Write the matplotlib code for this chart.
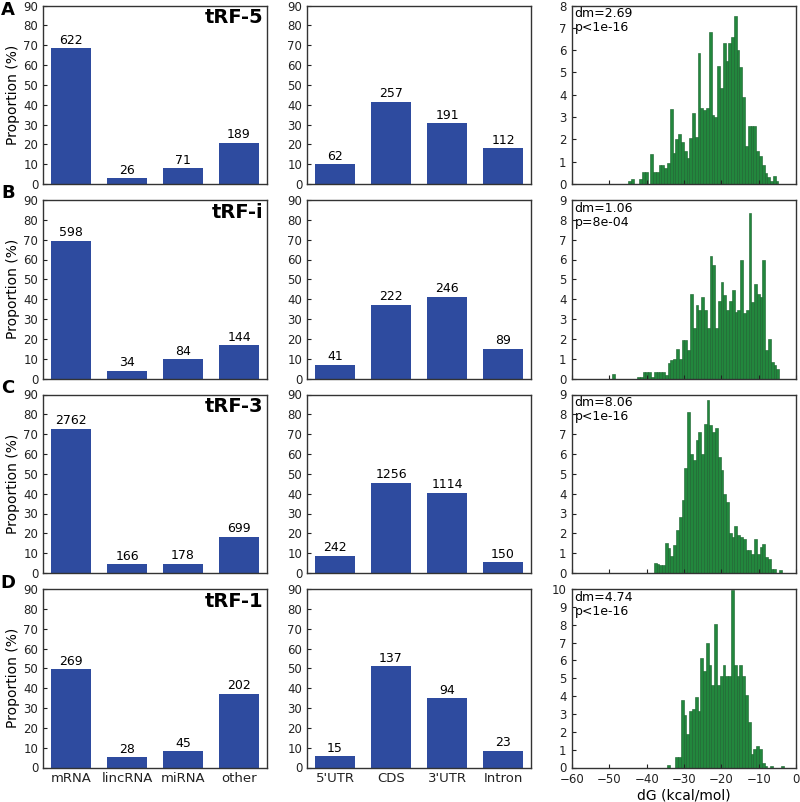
import numpy as np
import matplotlib
matplotlib.use('Agg')
import matplotlib.pyplot as plt

# ------------------------------------------------------------------
# data
# ------------------------------------------------------------------
groups = ["tRF-5", "tRF-i", "tRF-3", "tRF-1"]
panel_letters = ["A", "B", "C", "D"]

rna_types = ["mRNA", "lincRNA", "miRNA", "other"]
rna_counts = [
    [622, 26, 71, 189],
    [598, 34, 84, 144],
    [2762, 166, 178, 699],
    [269, 28, 45, 202],
]

regions = ["5'UTR", "CDS", "3'UTR", "Intron"]
region_counts = [
    [62, 257, 191, 112],
    [41, 222, 246, 89],
    [242, 1256, 1114, 150],
    [15, 137, 94, 23],
]

# dG histograms (percent per bin), bins span [start, end]
hist_range = [(-45.0, -4.7), (-49.3, -4.5), (-38.1, -3.8), (-34.6, -3.2)]
hist_trf5 = [0.12, 0.24, 0, 0, 0.24, 0.55, 0.55, 0, 1.34, 0.55,
             0.55, 0.86, 0.86, 0.7, 0.93, 3.36, 1.38, 2.0, 2.25, 1.9,
             1.5, 1.16, 2.05, 3.17, 2.1, 5.85, 3.4, 3.3, 3.4, 6.8,
             3.1, 3.0, 5.3, 4.3, 6.3, 5.5, 6.3, 6.6, 7.55, 6.0,
             5.25, 3.9, 1.7, 2.6, 2.6, 2.6, 1.5, 1.25, 0.85, 0.5,
             0.3, 0.12, 0.35, 0.12]
hist_trfi = [0.22, 0, 0, 0, 0, 0, 0, 0, 0,
             0.1, 0.1, 0.34, 0.34, 0.34, 0.1, 0.34, 0.34, 0.34, 0.34,
             0.2, 0.76, 0.92, 0.98, 1.48, 1.0, 1.94, 1.94, 1.43, 4.26,
             2.57, 3.7, 3.45, 4.12, 3.45, 2.55, 6.16, 5.7, 2.55, 3.9,
             4.85, 4.2, 3.45, 3.9, 4.46, 3.37, 3.45, 6.0, 3.28, 3.45,
             8.35, 3.87, 4.76, 4.26, 4.12, 5.97, 1.43, 2.0, 0.85, 0.67,
             0.5]
hist_trf3 = [0.5, 0.47, 0.39, 0.39, 1.53, 1.26, 0.85, 1.4, 2.19, 2.83,
             3.7, 5.27, 8.13, 6.0, 5.7, 6.7, 7.1, 6.0, 7.5, 8.7,
             7.45, 7.1, 7.3, 5.86, 5.2, 4.0, 3.6, 2.0, 1.8, 2.36,
             1.9, 1.8, 1.73, 1.15, 1.15, 0.98, 1.73, 0.98, 1.3, 1.48,
             0.8, 0.72, 0.22, 0.22, 0, 0.13]
hist_trf1 = [0.13, 0, 0, 0.57, 0.57, 3.77, 2.92, 1.9, 3.15, 3.3,
             3.96, 3.15, 6.13, 5.38, 6.98, 5.75, 4.62, 8.06, 4.62, 5.1,
             5.75, 5.1, 5.1, 9.95, 5.75, 5.1, 5.75, 5.1, 4.05, 2.55,
             0.75, 1.04, 1.23, 1.04, 0.28, 0.1, 0, 0.1, 0, 0,
             0, 0.1]
hist_heights = [hist_trf5, hist_trfi, hist_trf3, hist_trf1]
hist_ymax = [8, 9, 9, 10]
dm_vals = ["2.69", "1.06", "8.06", "4.74"]
p_vals = ["p<1e-16", "p=8e-04", "p<1e-16", "p<1e-16"]

BLUE = "#2e4b9f"
GREEN = "#22873d"
GREEN_EDGE = "#17602a"

# ------------------------------------------------------------------
# layout (pixel based)
# ------------------------------------------------------------------
W, H = 800, 802
fig = plt.figure(figsize=(W / 100, H / 100), dpi=100)

col_x = [43, 307, 572]
col_w = 224
row_top = [5.5, 200, 394.5, 589]
row_h = 178.5


def add_ax(col, row):
    x0 = col_x[col] / W
    y0 = 1 - (row_top[row] + row_h) / H
    return fig.add_axes([x0, y0, col_w / W, row_h / H])


def style(ax):
    for sp in ax.spines.values():
        sp.set_color("#333333")
        sp.set_linewidth(1.0)
    ax.tick_params(direction="in", length=3, labelsize=8.5, colors="#222222")


for r in range(4):
    # --- RNA type ---
    ax = add_ax(0, r)
    counts = np.array(rna_counts[r])
    prop = counts / counts.sum() * 100
    xs = np.arange(len(rna_types))
    ax.bar(xs, prop, width=0.7, color=BLUE)
    for x, p, c in zip(xs, prop, counts):
        ax.text(x, p + 0.8, str(c), ha="center", va="bottom", fontsize=9)
    ax.set_xlim(-0.5, 3.5)
    ax.set_ylim(0, 90)
    ax.set_yticks(range(0, 91, 10))
    ax.set_xticks(xs)
    style(ax)
    ax.tick_params(axis="x", length=0)
    if r == 3:
        ax.set_xticklabels(rna_types, fontsize=9.5)
    else:
        ax.set_xticklabels([])
    ax.set_ylabel("Proportion (%)", fontsize=10, labelpad=2)
    ax.text(0.985, 0.985, groups[r], transform=ax.transAxes, ha="right",
            va="top", fontsize=14, fontweight="bold")

    # --- mRNA region ---
    ax = add_ax(1, r)
    counts = np.array(region_counts[r])
    prop = counts / counts.sum() * 100
    xs = np.arange(len(regions))
    ax.bar(xs, prop, width=0.7, color=BLUE)
    for x, p, c in zip(xs, prop, counts):
        ax.text(x, p + 0.8, str(c), ha="center", va="bottom", fontsize=9)
    ax.set_xlim(-0.5, 3.5)
    ax.set_ylim(0, 90)
    ax.set_yticks(range(0, 91, 10))
    ax.set_xticks(xs)
    style(ax)
    ax.tick_params(axis="x", length=0)
    if r == 3:
        ax.set_xticklabels(regions, fontsize=9.5)
    else:
        ax.set_xticklabels([])

    # --- dG histogram ---
    ax = add_ax(2, r)
    heights = hist_heights[r]
    lo, hi = hist_range[r]
    edges = np.linspace(lo, hi, len(heights) + 1)
    ax.bar(edges[:-1], heights, width=np.diff(edges), align="edge",
           color=GREEN, edgecolor=GREEN_EDGE, linewidth=0.4)
    ax.set_xlim(-60, 0)
    ax.set_ylim(0, hist_ymax[r])
    ax.set_yticks(range(0, hist_ymax[r] + 1))
    ax.set_xticks(range(-60, 1, 10))
    style(ax)
    ax.tick_params(axis="y", pad=4)
    if r == 3:
        ax.set_xticklabels([f"\u2212{abs(v)}" if v < 0 else str(v)
                            for v in range(-60, 1, 10)], fontsize=8.5)
        ax.tick_params(axis="x", pad=4)
        ax.set_xlabel("dG (kcal/mol)", fontsize=10, labelpad=2)
    else:
        ax.set_xticklabels([])
    ax.text(0.012, 0.99, f"dm={dm_vals[r]}\n{p_vals[r]}", transform=ax.transAxes,
            ha="left", va="top", fontsize=9, linespacing=1.1)

# panel letters
letter_y = [10, 193, 388, 583]
for lab, y in zip(panel_letters, letter_y):
    fig.text(8 / W, 1 - y / H, lab, ha="center", va="center",
             fontsize=13, fontweight="bold")

plt.savefig("out.png", dpi=100)
